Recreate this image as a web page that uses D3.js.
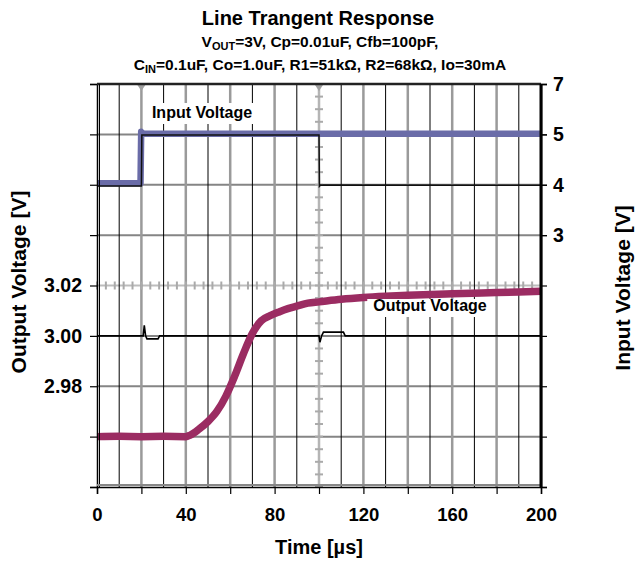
<!DOCTYPE html>
<html>
<head>
<meta charset="utf-8">
<script src="https://cdn.jsdelivr.net/npm/d3@7"></script>
<style>
  body { margin: 0; background: #fff; }
  text { font-family: "Liberation Sans", Arial, sans-serif; font-weight: bold; fill: #000; }
</style>
</head>
<body>
<svg id="chart" width="637" height="567"></svg>
<script>
// ---------- data ----------
const timeTicks = [0, 20, 40, 60, 80, 100, 120, 140, 160, 180, 200];
const timeLabels = [0, 40, 80, 120, 160, 200];
const gridTimes = [10, 20, 30, 40, 50, 60, 70, 80, 90, 100, 110, 120, 130, 140, 150, 160, 170, 180, 190];
const outGridValues = [2.94, 2.96, 2.98, 3.00, 3.02, 3.04, 3.06, 3.08, 3.10];
const outTickLabels = [2.98, 3.00, 3.02];
const inTickLabels = [3, 4, 5, 7];

// Output voltage (maroon trace, left axis)
const outTime = [0, 10, 20, 30, 40, 42, 46, 50, 54, 58, 62, 66, 70, 74, 78, 82, 86, 90, 95, 100, 110, 120, 130, 140, 160, 180, 200];
const outVolt = [2.9600, 2.9601, 2.9600, 2.9601, 2.9600, 2.9606, 2.9630, 2.9660, 2.9700, 2.9760, 2.9840, 2.9930, 3.0010, 3.0060, 3.0080, 3.0095, 3.0108, 3.0118, 3.0130, 3.0135, 3.0145, 3.0152, 3.0157, 3.0161, 3.0167, 3.0172, 3.0177];

// Output reference (thin black trace, left axis)
const refOutTime = [0, 20.8, 21.3, 21.9, 22.5, 27.5, 28.2, 100, 100.4, 101.2, 102, 111, 111.8, 200];
const refOutVolt = [3.0000, 3.0000, 3.0042, 3.0000, 2.9988, 2.9988, 3.0000, 3.0000, 2.9975, 3.0000, 3.0015, 3.0015, 3.0000, 3.0000];

// Input voltage (blue trace, right axis)
const inTime = [0, 19.6, 19.9, 20.4, 21.5, 60, 100, 140, 200];
const inVolt = [4.03, 4.03, 5.10, 5.05, 5.02, 5.02, 5.02, 5.02, 5.02];

// Input reference (thin black trace, right axis)
const refInTime = [0, 20.0, 20.2, 100.0, 100.2, 100.7, 200];
const refInVolt = [3.975, 3.975, 4.99, 4.99, 3.97, 3.995, 3.99];

// ---------- layout ----------
const svg = d3.select("#chart");
const L = 97, R = 541, T = 84, B = 487;
const FONT = "'Liberation Sans', Arial, sans-serif";

const x = d3.scaleLinear().domain([0, 200]).range([L, R]);
const yL = d3.scaleLinear().domain([2.94, 3.10]).range([B, T]);
const yR = d3.scaleLinear().domain([-2, 5, 7]).range([B, yL(3.08), T]);

// ---------- grid ----------
const grid = svg.append("g");
grid.selectAll("line.h").data(outGridValues.slice(1, -1)).join("line").attr("class", "h")
  .attr("x1", L).attr("x2", R)
  .attr("y1", d => yL(d)).attr("y2", d => yL(d))
  .attr("stroke", d => Math.abs(d - 3.02) < 1e-9 ? "#bdbdbd" : "#858585")
  .attr("stroke-width", 2);
grid.selectAll("line.v").data(gridTimes).join("line").attr("class", "v")
  .attr("x1", d => x(d)).attr("x2", d => x(d))
  .attr("y1", T).attr("y2", B)
  .attr("stroke", d => d === 100 ? "#b5b5b5" : (d % 20 === 0 ? "#9a9a9a" : "#000"))
  .attr("stroke-width", d => d % 20 === 0 ? 2.5 : 1);

// minor ticks on centre axes
grid.selectAll("line.mh").data(d3.range(0, 201, 4)).join("line").attr("class", "mh")
  .attr("x1", d => x(d)).attr("x2", d => x(d))
  .attr("y1", yL(3.02) - 4).attr("y2", yL(3.02) + 4)
  .attr("stroke", "#aaa").attr("stroke-width", 2);
grid.selectAll("line.mv").data(d3.range(2.94, 3.1001, 0.005)).join("line").attr("class", "mv")
  .attr("x1", x(100) - 4).attr("x2", x(100) + 4)
  .attr("y1", d => yL(d)).attr("y2", d => yL(d))
  .attr("stroke", "#aaa").attr("stroke-width", 2);

// trigger markers
[20, 100].forEach(t => {
  svg.append("path")
    .attr("d", `M${x(t) - 4},${T + 1} L${x(t) + 4},${T + 1} L${x(t)},${T + 7} Z`)
    .attr("fill", "#a0a0a0");
});

// ---------- traces ----------
const lineL = (tt, vv) => d3.line().x((d, i) => x(tt[i])).y((d, i) => yL(vv[i]))(tt);
const lineR = (tt, vv) => d3.line().x((d, i) => x(tt[i])).y((d, i) => yR(vv[i]))(tt);
const smoothL = (tt, vv) => d3.line().curve(d3.curveMonotoneX).x((d, i) => x(tt[i])).y((d, i) => yL(vv[i]))(tt);

svg.append("path").attr("d", lineR(inTime, inVolt))
  .attr("fill", "none").attr("stroke", "#6a6ca8").attr("stroke-width", 6.5).attr("stroke-linejoin", "round");
svg.append("path").attr("d", lineR(refInTime, refInVolt))
  .attr("fill", "none").attr("stroke", "#111").attr("stroke-width", 1.5);

svg.append("path").attr("d", lineL(refOutTime, refOutVolt))
  .attr("fill", "none").attr("stroke", "#000").attr("stroke-width", 1.6);
svg.append("path").attr("d", smoothL(outTime, outVolt))
  .attr("fill", "none").attr("stroke", "#9b2c62").attr("stroke-width", 7.5).attr("stroke-linejoin", "round");

// ---------- in-plot labels ----------
function boxLabel(cx, baseline, txt, padTop) {
  const g = svg.append("g");
  const t = g.append("text").attr("x", cx).attr("y", baseline)
    .attr("text-anchor", "middle").style("font-size", "16px").text(txt);
  const bb = t.node().getBBox();
  g.insert("rect", "text")
    .attr("x", bb.x - 6).attr("y", bb.y + padTop)
    .attr("width", bb.width + 12).attr("height", bb.height + 3 - padTop)
    .attr("fill", "#fff");
}
boxLabel(202, 118, "Input Voltage", -1);
boxLabel(430, 311, "Output Voltage", 2);

// ---------- axes ----------
const axL = svg.append("g").attr("transform", `translate(${L},0)`)
  .call(d3.axisLeft(yL).tickValues(outGridValues).tickSize(7).tickPadding(8)
    .tickFormat(d => outTickLabels.some(v => Math.abs(v - d) < 1e-9) ? d3.format(".2f")(d) : ""));
axL.selectAll("text").style("font-size", "19.5px").style("font-family", FONT).style("font-weight", "bold");

const axRt = svg.append("g").attr("transform", `translate(${R},0)`)
  .call(d3.axisRight(yL).tickValues(outGridValues).tickSize(6).tickFormat(""));
const axR = svg.append("g").attr("transform", `translate(${R},0)`)
  .call(d3.axisRight(yR).tickValues(inTickLabels).tickSize(6).tickPadding(6).tickFormat(d3.format("d")));
axR.selectAll("text").style("font-size", "19.5px").style("font-family", FONT).style("font-weight", "bold");
axR.select(".domain").remove();

const axB = svg.append("g").attr("transform", `translate(0,${B})`)
  .call(d3.axisBottom(x).tickValues(timeTicks).tickSize(7).tickPadding(14)
    .tickFormat(d => timeLabels.includes(d) ? d : ""));
axB.selectAll("text").style("font-size", "18.5px").style("font-family", FONT).style("font-weight", "bold");

[axL, axRt, axB].forEach(a => {
  a.select(".domain").attr("stroke", "#000").attr("stroke-width", 1.5);
  a.selectAll(".tick line").attr("stroke", "#000").attr("stroke-width", 1.2);
});
axR.selectAll(".tick line").attr("stroke", "#000").attr("stroke-width", 1.2);

// plot frame
svg.append("line").attr("x1", L).attr("x2", R).attr("y1", T).attr("y2", T).attr("stroke", "#222").attr("stroke-width", 2.5);
svg.append("line").attr("x1", L + 2.5).attr("x2", L + 2.5).attr("y1", T).attr("y2", B).attr("stroke", "#000").attr("stroke-width", 1);
svg.append("line").attr("x1", L).attr("x2", R).attr("y1", B - 2).attr("y2", B - 2).attr("stroke", "#888").attr("stroke-width", 2);
svg.append("line").attr("x1", R).attr("x2", R).attr("y1", T).attr("y2", B).attr("stroke", "#000").attr("stroke-width", 3);

// ---------- titles ----------
svg.append("text").attr("x", 318).attr("y", 25).attr("text-anchor", "middle")
  .style("font-size", "20px").text("Line Trangent Response");

const s1 = svg.append("text").attr("x", 320).attr("y", 47).attr("text-anchor", "middle").style("font-size", "15.5px");
s1.append("tspan").text("V");
s1.append("tspan").attr("dy", 3).style("font-size", "11px").text("OUT");
s1.append("tspan").attr("dy", -3).text("=3V, Cp=0.01uF, Cfb=100pF,");

const s2 = svg.append("text").attr("x", 320).attr("y", 70).attr("text-anchor", "middle").style("font-size", "15.5px");
s2.append("tspan").text("C");
s2.append("tspan").attr("dy", 3).style("font-size", "11px").text("IN");
s2.append("tspan").attr("dy", -3).text("=0.1uF, Co=1.0uF, R1=51kΩ, R2=68kΩ, Io=30mA");

svg.append("text").attr("x", 319).attr("y", 554).attr("text-anchor", "middle")
  .style("font-size", "20px").text("Time [µs]");

svg.append("text").attr("transform", "translate(26,282) rotate(-90)").attr("text-anchor", "middle")
  .style("font-size", "21px").text("Output Voltage [V]");
svg.append("text").attr("transform", "translate(630,288) rotate(-90)").attr("text-anchor", "middle")
  .style("font-size", "21px").text("Input Voltage [V]");
</script>
</body>
</html>
